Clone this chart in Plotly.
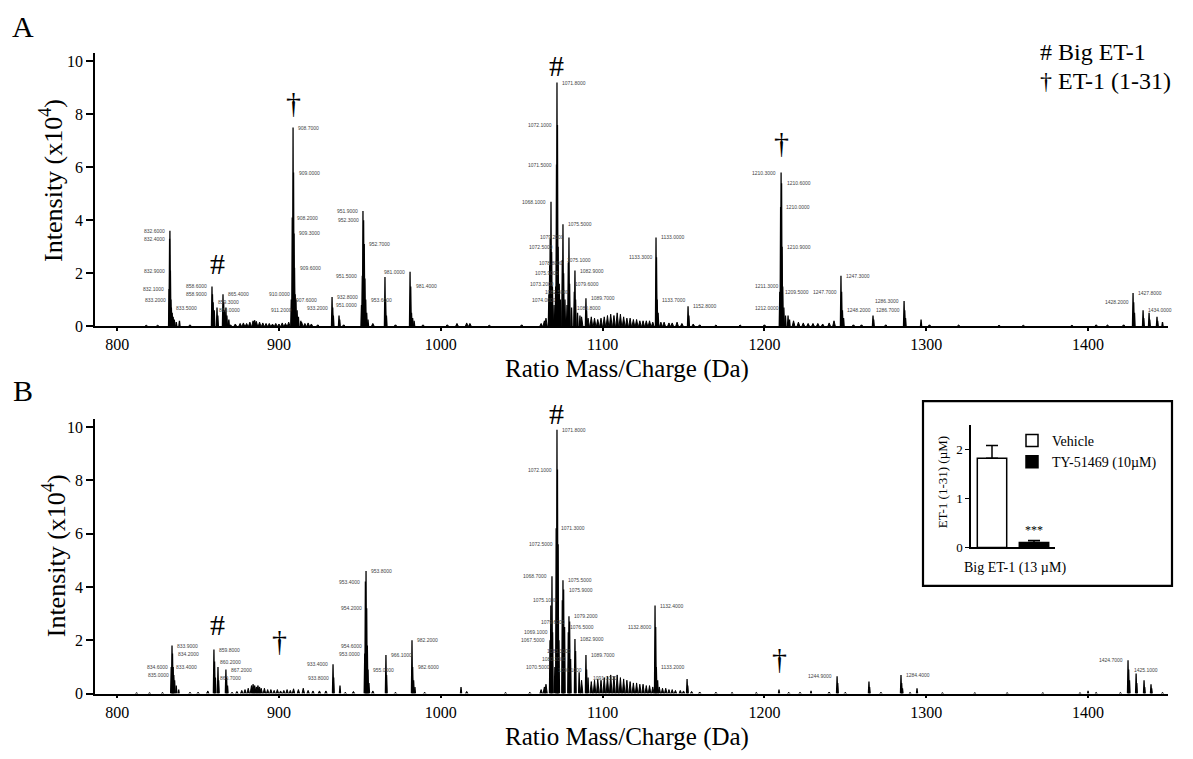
import plotly.graph_objects as go

# ---------------- Panel A : peaks (m/z, intensity x10^4) ----------------
a_mz = [832.1, 832.4, 832.6, 832.9, 833.2, 833.5, 834.0, 834.6, 835.3, 836.5, 838.5,
        858.6, 858.9, 859.3, 860.0, 861.7, 862.2, 865.4, 865.8, 866.3, 867.2, 867.8, 869.0,
        907.6, 908.2, 908.7, 909.0, 909.3, 909.6, 910.0, 910.5, 911.2, 912.0, 913.5,
        932.8, 933.2, 933.6, 937.1, 937.5,
        951.0, 951.5, 951.9, 952.3, 952.7, 953.1, 953.6, 954.2, 955.0,
        965.5, 965.9, 966.4,
        981.0, 981.4, 981.9, 982.6, 983.5,
        1066.8, 1067.3, 1067.6, 1068.1, 1068.5, 1069.0, 1070.0, 1071.0, 1071.5, 1071.8, 1072.1,
        1072.5, 1073.2, 1074.0, 1075.1, 1075.5, 1075.9, 1076.7, 1078.0, 1078.8, 1079.2, 1079.6,
        1080.8, 1082.5, 1082.9, 1083.3, 1084.5, 1086.0, 1089.7, 1090.1,
        1133.0, 1133.3, 1133.7, 1134.3,
        1152.8, 1153.3,
        1209.5, 1210.0, 1210.3, 1210.6, 1210.9, 1211.3, 1212.0, 1213.0, 1214.6, 1215.5,
        1247.3, 1247.7, 1248.2, 1248.9,
        1267.1, 1267.5,
        1286.3, 1286.7, 1287.2,
        1296.8,
        1427.8, 1428.2, 1428.7, 1434.0, 1434.4, 1437.7, 1438.1, 1442.6, 1443.0, 1446.0]
a_int = [1.4, 3.3, 3.6, 2.1, 1.0, 0.7, 0.5, 0.35, 0.25, 0.15, 0.2,
         1.5, 1.2, 0.9, 0.6, 0.7, 0.4, 1.2, 0.9, 0.6, 0.7, 0.4, 0.25,
         1.0, 4.1, 7.5, 5.8, 3.5, 2.2, 1.2, 1.0, 0.6, 0.35, 0.2,
         1.1, 0.7, 0.4, 0.4, 0.25,
         0.8, 1.9, 4.35, 4.0, 3.1, 1.8, 1.0, 0.5, 0.25,
         1.85, 1.0, 0.4,
         2.05, 1.5, 0.5, 0.3, 0.2,
         1.2, 2.3, 3.3, 4.7, 2.8, 1.5, 0.8, 1.5, 6.1, 9.2, 7.6,
         3.0, 1.6, 1.0, 2.5, 3.85, 2.0, 1.0, 0.8, 2.4, 3.35, 1.6,
         0.7, 1.3, 2.1, 1.0, 0.5, 0.4, 1.05, 0.6,
         3.35, 2.6, 1.0, 0.5,
         0.75, 0.4,
         1.3, 4.5, 5.8, 5.4, 3.0, 1.5, 0.7, 0.4, 0.4, 0.25,
         1.9, 1.3, 0.6, 0.3,
         0.4, 0.25,
         0.95, 0.6, 0.3,
         0.25,
         1.25, 0.9, 0.5, 0.6, 0.3, 0.5, 0.25, 0.35, 0.2, 0.15]
a_noise_mz = [818, 825, 845, 870, 873, 876, 878, 880, 882, 884, 885, 886, 888, 890, 892, 894,
              896, 898, 900, 902, 904, 906, 914, 916, 918, 920, 924, 940, 958, 972, 989, 1004,
              1010, 1016, 1018, 1030, 1050, 1062, 1064, 1065, 1087, 1091, 1093, 1095, 1097,
              1099, 1101, 1103, 1105, 1107, 1109, 1111, 1113, 1115, 1117, 1119, 1121, 1123,
              1125, 1127, 1129, 1131, 1136, 1138, 1141, 1143, 1146, 1149, 1156, 1160, 1170,
              1185, 1200, 1218, 1221, 1224, 1227, 1230, 1233, 1236, 1240, 1243, 1255, 1260,
              1275, 1302, 1320, 1345, 1360, 1390, 1405, 1412, 1422]
a_noise_int = [0.03, 0.03, 0.05, 0.05, 0.08, 0.1, 0.12, 0.1, 0.15, 0.2, 0.22, 0.18, 0.15, 0.12, 0.1, 0.1,
               0.08, 0.1, 0.08, 0.12, 0.1, 0.15, 0.15, 0.1, 0.12, 0.08, 0.05, 0.05, 0.1, 0.05, 0.05, 0.05,
               0.1, 0.12, 0.1, 0.03, 0.05, 0.1, 0.2, 0.3, 0.35, 0.3, 0.35, 0.3, 0.25,
               0.3, 0.35, 0.4, 0.45, 0.4, 0.5, 0.45, 0.35, 0.3, 0.3, 0.25, 0.25, 0.2,
               0.2, 0.2, 0.2, 0.15, 0.15, 0.15, 0.12, 0.12, 0.15, 0.1, 0.08, 0.05, 0.04,
               0.04, 0.05, 0.2, 0.15, 0.12, 0.1, 0.1, 0.1, 0.08, 0.12, 0.2, 0.05, 0.05,
               0.05, 0.05, 0.04, 0.03, 0.03, 0.03, 0.05, 0.04, 0.05]

# ---------------- Panel B : peaks ----------------
b_mz = [833.4, 833.9, 834.2, 834.6, 835.0, 835.5, 836.5, 838.0,
        859.8, 860.2, 860.7, 862.3, 862.7, 867.2, 867.6, 868.2,
        933.4, 933.8, 937.7,
        953.0, 953.4, 953.8, 954.2, 954.6, 955.0, 955.6,
        966.1, 966.5,
        982.2, 982.6, 983.2, 984.0,
        1012.5,
        1067.5, 1068.0, 1068.7, 1069.1, 1070.5, 1071.3, 1071.8, 1072.1, 1072.5, 1073.0,
        1075.1, 1075.5, 1075.9, 1076.5, 1078.8, 1079.2, 1079.6, 1080.2, 1082.9, 1083.3,
        1085.5, 1089.7, 1090.1, 1091.0,
        1132.4, 1132.8, 1133.2, 1134.0,
        1152.2, 1152.6,
        1209.0, 1228.8,
        1244.9, 1245.3,
        1264.6, 1265.0,
        1284.4, 1284.8, 1285.3,
        1294.3, 1400.0,
        1424.7, 1425.1, 1425.6, 1429.7, 1430.1, 1434.6, 1435.0, 1438.9, 1439.3]
b_int = [1.0, 1.8, 1.5, 1.0, 0.7, 0.5, 0.3, 0.15,
         1.65, 1.2, 0.6, 1.0, 0.5, 0.9, 0.6, 0.3,
         1.1, 0.6, 0.3,
         1.5, 4.2, 4.6, 3.2, 1.8, 0.9, 0.4,
         1.45, 0.7,
         2.0, 1.0, 0.5, 0.25,
         0.25,
         2.0, 3.3, 4.4, 2.3, 1.0, 6.2, 9.9, 8.4, 5.6, 2.0,
         3.5, 4.25, 3.9, 2.5, 2.3, 2.9, 2.7, 1.3, 2.05, 1.6,
         0.8, 1.45, 0.9, 0.6,
         3.3, 2.5, 1.0, 0.5,
         0.55, 0.3,
         0.15, 0.1,
         0.65, 0.4,
         0.45, 0.25,
         0.7, 0.4, 0.2,
         0.2, 0.1,
         1.25, 0.9, 0.5, 0.75, 0.4, 0.5, 0.25, 0.35, 0.2]
b_noise_mz = [812, 820, 828, 845, 850, 856, 871, 874, 877, 879, 881, 883, 884, 885, 886, 887,
              888, 889, 891, 893, 895, 897, 899, 901, 903, 905, 907, 909, 912, 915, 918, 921,
              925, 929, 941, 946, 958, 972, 990, 1016, 1040, 1055, 1062, 1064, 1065, 1087,
              1093, 1095, 1097, 1099, 1101, 1103, 1105, 1107, 1109, 1111, 1113, 1115, 1117,
              1119, 1121, 1123, 1125, 1127, 1129, 1131, 1135, 1137, 1139, 1141, 1143, 1145,
              1148, 1150, 1155, 1160, 1170, 1180, 1195, 1215, 1222, 1240, 1250, 1272, 1290,
              1310, 1330, 1350, 1372, 1395, 1405, 1420, 1446]
b_noise_int = [0.03, 0.03, 0.04, 0.05, 0.05, 0.1, 0.05, 0.08, 0.12, 0.15, 0.2, 0.3, 0.35, 0.3, 0.25, 0.3,
               0.25, 0.2, 0.2, 0.15, 0.15, 0.12, 0.15, 0.1, 0.12, 0.15, 0.12, 0.18, 0.15, 0.2, 0.12, 0.1,
               0.1, 0.1, 0.05, 0.08, 0.1, 0.05, 0.05, 0.08, 0.04, 0.05, 0.15, 0.25, 0.35, 0.5,
               0.45, 0.5, 0.55, 0.5, 0.6, 0.65, 0.7, 0.65, 0.7, 0.6, 0.55, 0.5, 0.45,
               0.4, 0.4, 0.35, 0.35, 0.3, 0.3, 0.25, 0.25, 0.2, 0.2, 0.15, 0.15, 0.12,
               0.12, 0.1, 0.08, 0.06, 0.05, 0.04, 0.04, 0.05, 0.05, 0.06, 0.05, 0.05, 0.04,
               0.03, 0.03, 0.03, 0.03, 0.03, 0.04, 0.04, 0.04]

# Peak markers (# Big ET-1, † ET-1 (1-31)) : symbol, m/z, intensity level of glyph centre
a_marks = [("#", 861.7, 2.35), ("†", 908.7, 8.45), ("#", 1071.8, 9.85), ("†", 1210.3, 6.95)]
b_marks = [("#", 1071.8, 10.5), ("#", 862.3, 2.6), ("†", 900.6, 2.0), ("†", 1209.6, 1.3)]

# Inset: ET-1 (1-31) formed from Big ET-1 (13 µM)
inset_groups = ["Vehicle", "TY-51469 (10µM)"]
inset_means = [1.82, 0.10]
inset_sem = [0.26, 0.04]

x_ticks = [800, 900, 1000, 1100, 1200, 1300, 1400]
y_ticks = [0, 2, 4, 6, 8, 10]

SERIF = "Liberation Serif"
WIN_W, WIN_H = 1193, 759
OFF = 8                      # page body margin
W, H = WIN_W - 2 * OFF, WIN_H - 2 * OFF
XR = [786.3, 1449.4]
YR = [0, 10.3]
PLOT_W = 1168 - 95


def fx(px):  # page pixel -> paper x
    return (px - OFF) / W


def fy(py):  # page pixel -> paper y
    return 1 - (py - OFF) / H


def stems(mz, inten, half=0.35):
    xs, ys = [], []
    for m, h in zip(mz, inten):
        xs += [m - half, m, m + half, None]
        ys += [0, h, 0, None]
    return xs, ys


fig = go.Figure()

for mz, it, nmz, nit, xa, ya in [(a_mz, a_int, a_noise_mz, a_noise_int, "x", "y"),
                                  (b_mz, b_int, b_noise_mz, b_noise_int, "x2", "y2")]:
    nx, ny = stems(nmz, nit, 0.8)
    fig.add_trace(go.Scatter(x=nx, y=ny, mode="lines", line=dict(color="black", width=1),
                             fill="toself", fillcolor="black",
                             xaxis=xa, yaxis=ya, showlegend=False, hoverinfo="skip"))
    sx, sy = stems(mz, it)
    fig.add_trace(go.Scatter(x=sx, y=sy, mode="lines", line=dict(color="black", width=1.3),
                             xaxis=xa, yaxis=ya, showlegend=False))

# inset bars
for i, col in enumerate(["white", "black"]):
    fig.add_trace(go.Bar(x=[inset_groups[i]], y=[inset_means[i]], name=inset_groups[i],
                         error_y=dict(type="data", array=[inset_sem[i]], arrayminus=[0], symmetric=False,
                                      color="black", thickness=1.5, width=6),
                         marker=dict(color=col, line=dict(color="black", width=1.5)),
                         width=0.7, xaxis="x3", yaxis="y3"))

xdom = [fx(95), fx(1168)]
ax_common = dict(range=XR, tickvals=x_ticks, showline=True, linecolor="black", linewidth=1.8,
                 ticks="outside", ticklen=3, tickwidth=1.5, tickcolor="black", showgrid=False,
                 zeroline=False, tickfont=dict(family=SERIF, size=16, color="black"), domain=xdom)
ay_common = dict(range=YR, tickvals=y_ticks, showline=True, linecolor="black", linewidth=1.8,
                 ticks="outside", ticklen=7, tickwidth=1.5, tickcolor="black", showgrid=False,
                 zeroline=False, tickfont=dict(family=SERIF, size=16, color="black"))

fig.update_layout(
    width=W, height=H, margin=dict(l=0, r=0, t=0, b=0),
    plot_bgcolor="white", paper_bgcolor="white", barmode="overlay",
    xaxis=dict(**ax_common, anchor="y"),
    yaxis=dict(**ay_common, anchor="x", domain=[fy(330), fy(54)]),
    xaxis2=dict(**ax_common, anchor="y2"),
    yaxis2=dict(**ay_common, anchor="x2", domain=[fy(702), fy(424)]),
    xaxis3=dict(domain=[fx(971), fx(1055)], anchor="y3", showline=True, linecolor="black",
                linewidth=1.5, showticklabels=False, ticks="", showgrid=False, zeroline=False,
                range=[-0.5, 1.5]),
    yaxis3=dict(domain=[fy(554), fy(430)], anchor="x3", range=[0, 2.5], tickvals=[0, 1, 2],
                showline=True, linecolor="black", linewidth=1.5, ticks="outside", ticklen=4,
                tickcolor="black", showgrid=False, zeroline=False,
                tickfont=dict(family=SERIF, size=13, color="black")),
    legend=dict(x=fx(1012), y=fy(430), xanchor="left", yanchor="top",
                font=dict(family=SERIF, size=14, color="black"), bgcolor="rgba(0,0,0,0)",
                tracegroupgap=2),
    showlegend=True,
)

ann = []


def paper_text(text, x, y, size, xanchor="center", **kw):
    ann.append(dict(text=text, x=fx(x), y=fy(y), xref="paper", yref="paper", showarrow=False,
                    xanchor=xanchor, yanchor="middle",
                    font=dict(family=SERIF, size=size, color="black"), **kw))


paper_text("A", 23, 27, 30)
paper_text("B", 23, 395, 30)
paper_text("Intensity (x10<sup>4</sup>)", 52, 183, 26, textangle=-90)
paper_text("Intensity (x10<sup>4</sup>)", 54, 563, 26, textangle=-90)
paper_text("Ratio Mass/Charge (Da)", 627, 373, 25)
paper_text("Ratio Mass/Charge (Da)", 627, 746, 25)
paper_text("# Big ET-1", 1038, 53, 24, xanchor="left")
paper_text("† ET-1 (1-31)", 1038, 82, 24, xanchor="left")
paper_text("ET-1 (1-31) (µM)", 942, 488, 13, textangle=-90)
paper_text("Big ET-1 (13 µM)", 1015, 575, 14)

# *** significance
ann.append(dict(text="***", x=inset_groups[1], y=inset_means[1] + inset_sem[1], xref="x3", yref="y3",
                yanchor="bottom", yshift=2, showarrow=False, font=dict(family=SERIF, size=12, color="black")))

# peak markers
for marks, xr, yr, ppu in [(a_marks, "x", "y", 26.8), (b_marks, "x2", "y2", 27.0)]:
    for sym, m, lvl in marks:
        y_use = min(lvl, 10.0)
        ann.append(dict(text=sym, x=m, y=y_use, xref=xr, yref=yr, showarrow=False,
                        yshift=(lvl - y_use) * ppu, xanchor="center", yanchor="middle",
                        font=dict(family=SERIF, size=30, color="black")))

# tiny m/z labels at the peaks (skipped where they would collide)
for mz, it, xr, yr, ppu in [(a_mz, a_int, "x", "y", 26.8), (b_mz, b_int, "x2", "y2", 27.0)]:
    placed = []
    k = 0
    for m, h in sorted(zip(mz, it), key=lambda t: -t[1]):
        if h < 0.6:
            continue
        px = (m - XR[0]) / (XR[1] - XR[0]) * PLOT_W
        py = h * ppu
        for right in ([True, False] if k % 2 == 0 else [False, True]):
            x0 = px + 3 if right else px - 30
            box = (x0, x0 + 27, py - 4, py + 4)
            if all(box[1] < b[0] or box[0] > b[1] or box[3] < b[2] or box[2] > b[3] for b in placed):
                placed.append(box)
                ann.append(dict(text=f"{m:.4f}", x=m, y=h, xref=xr, yref=yr, showarrow=False,
                                xanchor="left" if right else "right", xshift=3 if right else -3,
                                font=dict(family="Liberation Sans", size=5, color="#444")))
                k += 1
                break

fig.update_layout(annotations=ann)
fig.add_shape(type="rect", xref="paper", yref="paper", x0=fx(923), x1=fx(1172),
              y0=fy(593), y1=fy(406), line=dict(color="black", width=2.2))

fig.write_html("out.html")
